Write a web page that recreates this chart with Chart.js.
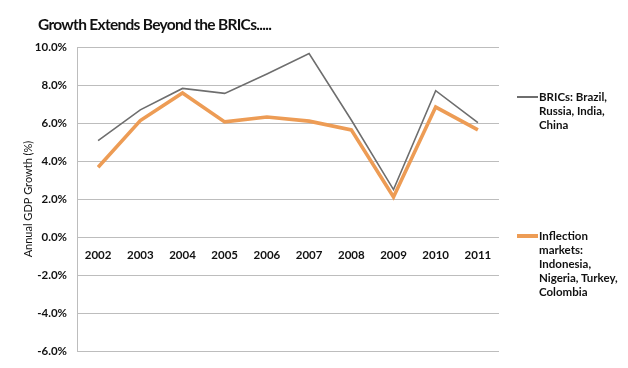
<!DOCTYPE html>
<html><head><meta charset="utf-8">
<script src="https://cdn.jsdelivr.net/npm/chart.js@4/dist/chart.umd.min.js"></script>
<style>
html,body{margin:0;padding:0;background:#fff;}
#wrap{position:relative;width:628px;height:368px;font-family:Lato,"Open Sans",sans-serif;}
canvas{position:absolute;left:0;top:0;}
#title{position:absolute;left:38px;top:15px;font-size:15.5px;font-weight:bold;color:#111;white-space:nowrap;letter-spacing:-0.7px;}
.leg{position:absolute;left:517px;font-size:11.5px;font-weight:bold;color:#111;line-height:14px;}
.leg .sw{position:absolute;left:0;width:21px;}
.leg .tx{position:absolute;left:22px;white-space:nowrap;}
</style></head>
<body><div id="wrap">
<canvas id="c" width="628" height="368"></canvas>
<div id="title">Growth Extends Beyond the BRICs.....</div>
<div class="leg" style="top:90px"><div class="sw" style="top:6px;height:2px;background:#6e6e6e"></div><div class="tx">BRICs: Brazil,<br>Russia, India,<br>China</div></div>
<div class="leg" style="top:229px"><div class="sw" style="top:5px;height:4px;background:#ED9C55"></div><div class="tx">Inflection<br>markets:<br>Indonesia,<br>Nigeria, Turkey,<br>Colombia</div></div>
</div>
<script>
const years = ['2002','2003','2004','2005','2006','2007','2008','2009','2010','2011'];
const brics = [5.07, 6.69, 7.82, 7.56, 8.58, 9.65, 6.16, 2.50, 7.70, 6.02];
const inflection = [3.67, 6.13, 7.58, 6.06, 6.32, 6.10, 5.64, 2.11, 6.84, 5.64];
const seriesNames = ['BRICs: Brazil, Russia, India, China', 'Inflection markets: Indonesia, Nigeria, Turkey, Colombia'];
const yAxisTitle = 'Annual GDP Growth (%)';

new Chart(document.getElementById('c'), {
  type: 'line',
  data: {
    labels: years,
    datasets: [
      {label: seriesNames[0], data: brics, borderColor: '#6e6e6e', borderWidth: 1.6, pointRadius: 0, tension: 0, order: 1},
      {label: seriesNames[1], data: inflection, borderColor: '#ED9C55', borderWidth: 3.6, pointRadius: 0, tension: 0, order: 2}
    ]
  },
  options: {
    responsive: false,
    animation: false,
    devicePixelRatio: 1,
    layout: {padding: {left: 0, right: 129, top: 47, bottom: 12}},
    plugins: {legend: {display: false}, title: {display: false}, tooltip: {enabled: false}},
    scales: {
      x: {
        position: {y: 0},
        offset: true,
        grid: {display: false, drawTicks: false},
        border: {display: false},
        ticks: {color: '#111', font: {family: 'Lato', size: 11.5, weight: 'bold'}, padding: 11, maxRotation: 0}
      },
      y: {
        min: -6, max: 10,
        grid: {color: '#bdbdbd', lineWidth: 1, drawTicks: false},
        border: {display: true, color: '#bdbdbd'},
        ticks: {stepSize: 2, color: '#111', font: {family: 'Lato', size: 11.5, weight: 'bold'}, padding: 10,
          callback: v => v.toFixed(1) + '%'},
        title: {display: true, text: yAxisTitle, color: '#111', font: {family: 'Lato', size: 11}, padding: {top: 22, bottom: 4}},
        afterFit: s => { s.width = 77; }
      }
    }
  }
});
</script>
</body></html>
